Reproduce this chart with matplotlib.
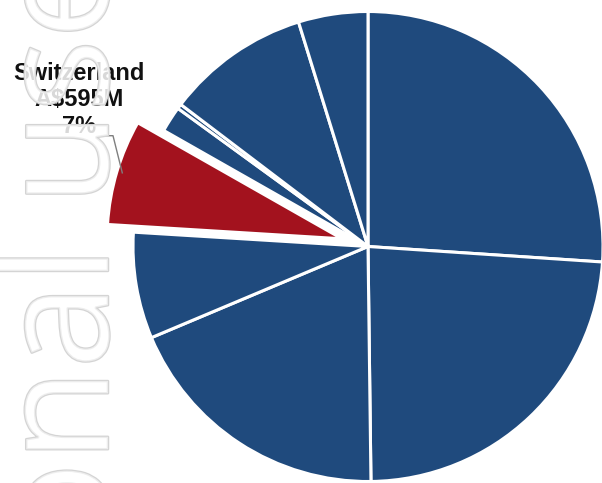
import matplotlib
matplotlib.use("Agg")
import matplotlib.pyplot as plt
import matplotlib.patheffects as pe
import numpy as np

# ---- data (A$ millions), clockwise from 12 o'clock ----
categories = ["", "", "", "", "Switzerland", "", "", "", ""]
values = [2138, 1949, 1548, 600, 595, 146, 27, 812, 392]
highlight = "Switzerland"
highlight_value_label = "A$595M"
watermark = ("Persona", "l use")

BLUE = "#1f4a7d"
RED = "#a3121e"

W, H = 602, 483
CX, CY, R = 368.0, 246.5, 235.0  # pie centre / radius in pixels

fig = plt.figure(figsize=(W / 100, H / 100), dpi=100)
ax = fig.add_axes([0, 0, 1, 1])
ax.axis("off")

colors = [RED if c == highlight else BLUE for c in categories]
explode = [0.115 if c == highlight else 0.0 for c in categories]

wedges, _ = ax.pie(values, colors=colors, explode=explode, startangle=90,
                   counterclock=False, radius=1.0,
                   wedgeprops=dict(edgecolor="white", linewidth=2.2))

ax.set_xlim(-CX / R, (W - CX) / R)
ax.set_ylim(-(H - CY) / R, CY / R)
ax.set_aspect("auto")

def px(x, y):
    return ((x - CX) / R, (CY - y) / R)

# label for highlighted slice
hi = categories.index(highlight)
w = wedges[hi]
mid = np.deg2rad((w.theta1 + w.theta2) / 2)
cxw, cyw = w.center
pct = values[hi] / sum(values) * 100
end = (cxw + 0.975 * np.cos(mid), cyw + 0.975 * np.sin(mid))
elbow = px(113, 135.7)
start = px(101.7, 135.7)
ax.plot([start[0], elbow[0], end[0]], [start[1], elbow[1], end[1]],
        color="#7f7f7f", lw=1.0, solid_capstyle="butt", zorder=3)
lx, ly = px(79, 61.5)
ax.text(lx, ly, f"{highlight}\n{highlight_value_label}\n{pct:.0f}%",
        ha="center", va="top", fontsize=17, fontweight="bold",
        family="Liberation Sans", color="#111111", linespacing=1.2, zorder=4)

# watermark (outlined, translucent)
wm_kw = dict(rotation=90, rotation_mode="anchor", va="baseline",
             fontsize=110, family="Open Sans", color=(1, 1, 1, 0.6), zorder=5,
             path_effects=[pe.withStroke(linewidth=1.8, foreground="#d4d4d4")])
wx, wy = px(108, 284)
ax.text(wx, wy, watermark[0], ha="right", **wm_kw)
ax.text(wx, wy, watermark[1], ha="left", **wm_kw)

fig.savefig("out.png", dpi=100)
